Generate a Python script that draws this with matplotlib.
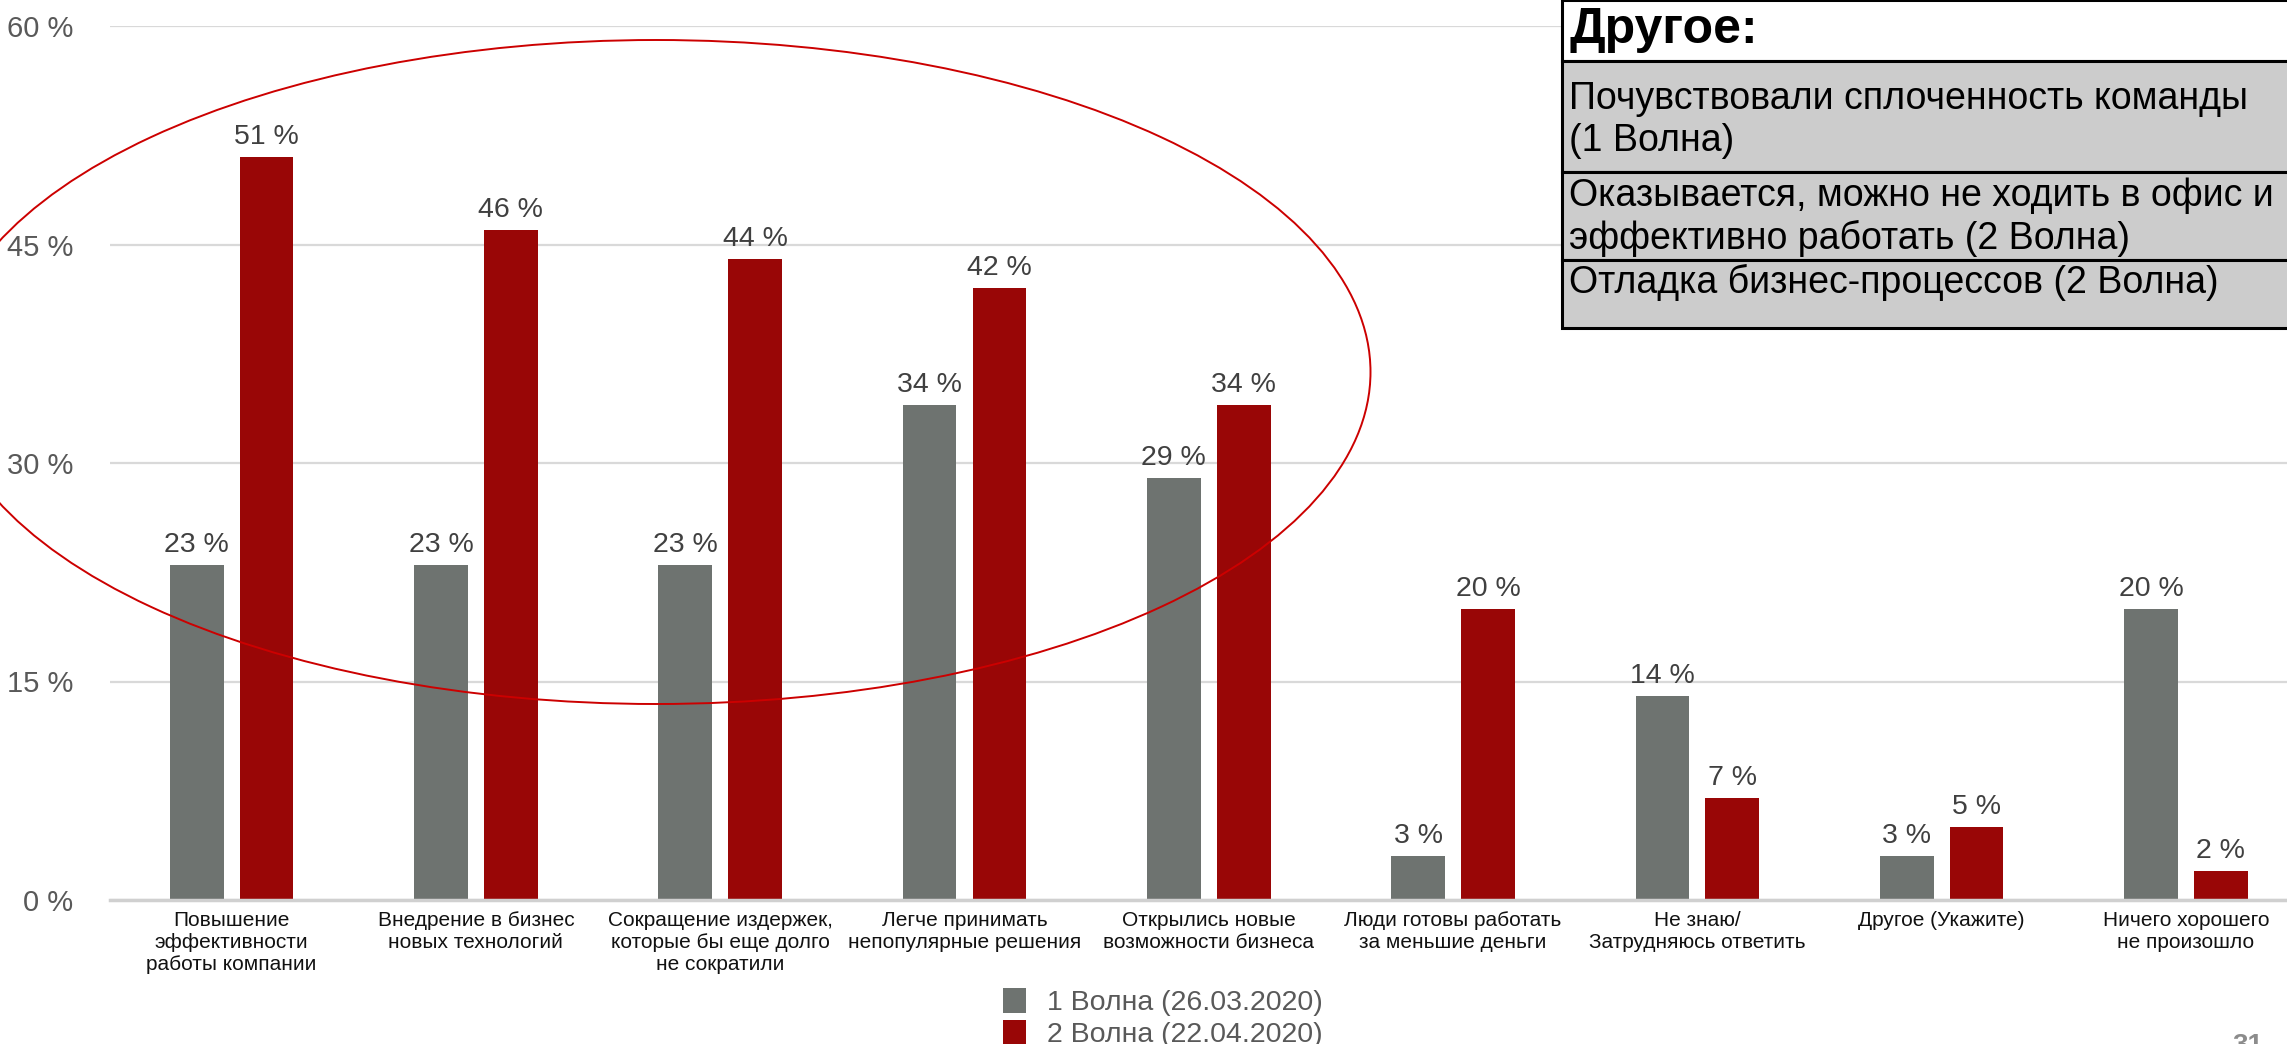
import numpy as np
import matplotlib
matplotlib.use("Agg")
import matplotlib.pyplot as plt
from matplotlib.patches import Ellipse, Rectangle

plt.rcParams['font.family'] = ['Liberation Sans', 'DejaVu Sans']

categories = [
    "Повышение\nэффективности\nработы компании",
    "Внедрение в бизнес\nновых технологий",
    "Сокращение издержек,\nкоторые бы еще долго\nне сократили",
    "Легче принимать\nнепопулярные решения",
    "Открылись новые\nвозможности бизнеса",
    "Люди готовы работать\nза меньшие деньги",
    "Не знаю/\nЗатрудняюсь ответить",
    "Другое (Укажите)",
    "Ничего хорошего\nне произошло",
]
wave1 = [23, 23, 23, 34, 29, 3, 14, 3, 20]
wave2 = [51, 46, 44, 42, 34, 20, 7, 5, 2]
series_names = ["1 Волна (26.03.2020)", "2 Волна (22.04.2020)"]
yticks = [0, 15, 30, 45, 60]

other_title = "Другое:"
other_rows = [
    "Почувствовали сплоченность команды\n(1 Волна)",
    "Оказывается, можно не ходить в офис и\nэффективно работать (2 Волна)",
    "Отладка бизнес-процессов (2 Волна)",
]

GREY = "#6e7370"
RED = "#990606"
W, H = 2287, 1044


def fx(px):
    return px / W


def fy(py):
    return 1 - py / H


fig = plt.figure(figsize=(W / 100, H / 100), dpi=100)
ax = fig.add_axes([fx(109.5), fy(900), fx(2308 - 109.5), (900 - 26) / H])

x = np.arange(len(categories))
bw = 0.22
off = 0.143
b1 = ax.bar(x - off, wave1, bw, color=GREY, label=series_names[0], zorder=2)
b2 = ax.bar(x + off, wave2, bw, color=RED, label=series_names[1], zorder=2)

for bars, vals in ((b1, wave1), (b2, wave2)):
    for rect, v in zip(bars, vals):
        ax.annotate(f"{v} %", (rect.get_x() + rect.get_width() / 2, v),
                    xytext=(0, 5), textcoords="offset points",
                    ha="center", va="bottom", fontsize=20.5, color="#404040")

ax.set_xlim(-0.5, len(categories) - 0.5)
ax.set_ylim(0, 60)
ax.set_yticks(yticks)
ax.set_yticklabels([f"{t} %" for t in yticks], fontsize=21, color="#595959")
ax.set_xticks(x)
ax.set_xticklabels(categories, fontsize=15, color="#111111", linespacing=1.2)
ax.tick_params(axis="both", length=0)
ax.tick_params(axis="y", pad=26)
ax.tick_params(axis="x", pad=8)
ax.yaxis.grid(True, color="#d9d9d9", linewidth=1.6, zorder=0)
for s in ("top", "right", "left"):
    ax.spines[s].set_visible(False)
ax.spines["bottom"].set_color("#d0d0d0")
ax.spines["bottom"].set_linewidth(2.5)
ax.spines["bottom"].set_zorder(3)

# red oval round the first five groups
fig.add_artist(Ellipse((fx(656), fy(372)), width=1429 / W, height=664 / H,
                       transform=fig.transFigure, fill=False,
                       edgecolor="#cc0000", linewidth=1.4, zorder=5))

# "other" answers box, top right
rows_px = [(0, 61, "white"), (61, 172, "#cccccc"), (172, 260, "#cccccc"), (260, 328, "#cccccc")]
for top, bot, col in rows_px:
    fig.add_artist(Rectangle((fx(1562), fy(bot)), fx(W - 1562 + 10), (bot - top) / H,
                             transform=fig.transFigure, facecolor=col,
                             edgecolor="black", linewidth=2.2, zorder=6))
fig.text(fx(1570), fy(30), other_title, fontsize=36, fontweight="bold",
         va="center", ha="left", zorder=7)
row_centres = [120, 217, 282]
for yc, txt in zip(row_centres, other_rows):
    fig.text(fx(1569), fy(yc), txt, fontsize=27, va="center", ha="left",
             linespacing=1.22, zorder=7)

fig.legend(handles=[b1, b2], loc="upper left", bbox_to_anchor=(fx(989), fy(974)),
           frameon=False, fontsize=20.5, handlelength=0.8, handleheight=0.95,
           handletextpad=0.75, labelspacing=0.12, borderpad=0, labelcolor="#595959")

fig.text(fx(2232), fy(1033), "31", fontsize=20, color="#8c8c8c",
         fontweight="bold", ha="left", va="top")

fig.savefig("out.png", dpi=100)
